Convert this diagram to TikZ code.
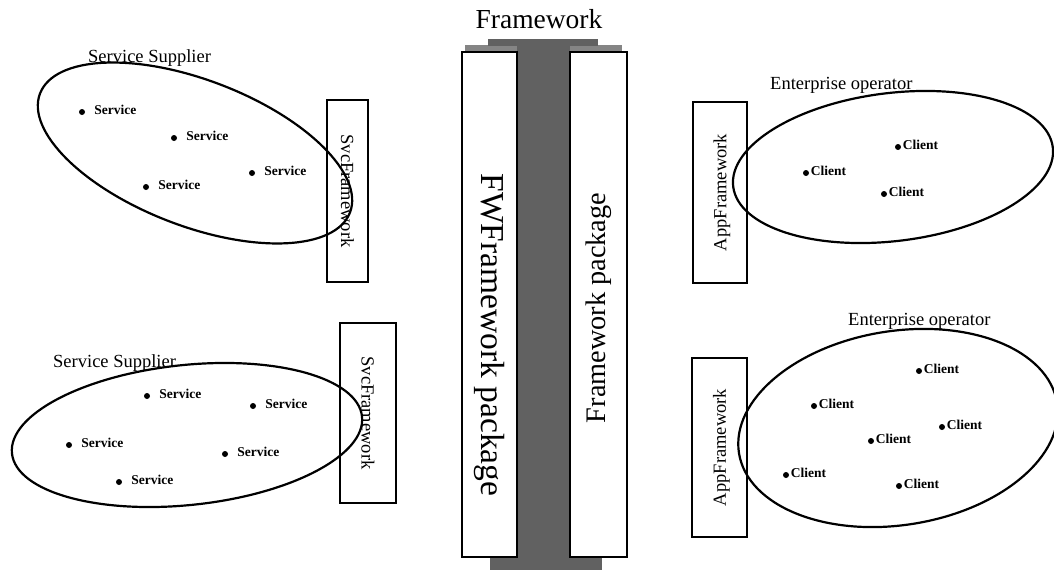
\documentclass[tikz,border=0pt]{standalone}
\usepackage{fontspec}
\setmainfont{Liberation Serif}
\begin{document}
\begin{tikzpicture}[x=1pt,y=-1pt,
  groupline/.style={line width=2.2pt},
  fwbox/.style={draw, line width=1.2pt, inner sep=0pt},
  corebox/.style={draw, line width=1.7pt, fill=white, inner sep=0pt},
  member/.style={circle, fill=black, inner sep=0pt, minimum size=6pt},
  svclabel/.style={anchor=base west, inner sep=0pt, font=\fontsize{13.5}{15}\selectfont\bfseries},
  grouplabel/.style={anchor=base west, inner sep=0pt, font=\fontsize{18.5}{21}\selectfont},
  sidelabel/.style={inner sep=0pt, font=\fontsize{18.5}{21}\selectfont},
]
\useasboundingbox (0,0) rectangle (1054,570);
\fill[white] (0,0) rectangle (1054,570);

% central shared core: flanged column behind the two package boxes
\fill[black!48] (465,45) rectangle (622,53);
\fill[black!62] (488,39) rectangle (598,46);
\fill[black!62] (517,39) rectangle (570,570);
\fill[black!62] (490,556) rectangle (602,570);

\node[corebox, minimum width=55pt, minimum height=505pt] (fwpkg) at (489.5,304.5) {};
\node[corebox, minimum width=57pt, minimum height=505pt] (pkg) at (598.5,304.5) {};
\node[inner sep=0pt, rotate=-90, font=\fontsize{33.5}{36}\selectfont] (fwtext) at (489,335) {FWFramework package};
\node[inner sep=0pt, rotate=90, font=\fontsize{28.3}{31}\selectfont] (pkgtext) at (599,308) {Framework package};
\node[anchor=base, inner sep=0pt, font=\fontsize{27.5}{30}\selectfont] (title) at (539,28) {Framework};

% service supplier, upper left
\node[fwbox, minimum width=41pt, minimum height=182pt] (svc1) at (347.5,191) {};
\node[sidelabel, rotate=-90] at (svc1.center) {SvcFramework};
\draw[groupline, rotate around={-21:(195,153)}] (195,153) ellipse [x radius=166pt, y radius=73pt];
\node[grouplabel] (sup1) at (88,62) {Service Supplier};
\foreach \n/\x/\y in {a/82/112, b/174/138, c/252/173, d/146/187} {
  \node[member] (s1\n) at (\x,\y) {};
  \node[svclabel] at ([xshift=9pt, yshift=-2.5pt]s1\n.east) {Service};
}

% service supplier, lower left
\node[fwbox, minimum width=56pt, minimum height=180pt] (svc2) at (368,413) {};
\node[sidelabel, rotate=-90] at (svc2.center) {SvcFramework};
\draw[groupline, rotate around={6:(187,435)}] (187,435) ellipse [x radius=176pt, y radius=70pt];
\node[grouplabel] (sup2) at (53,367) {Service Supplier};
\foreach \n/\x/\y in {a/147/396, b/253/406, c/69/445, d/225/454, e/119/482} {
  \node[member] (s2\n) at (\x,\y) {};
  \node[svclabel] at ([xshift=9pt, yshift=-2.5pt]s2\n.east) {Service};
}

% enterprise operator, upper right
\node[fwbox, minimum width=54pt, minimum height=181pt] (app1) at (720,192.5) {};
\node[sidelabel, rotate=90] at ([xshift=2pt]app1.center) {AppFramework};
\draw[groupline, rotate around={7:(893,167)}] (893,167) ellipse [x radius=161pt, y radius=74pt];
\node[grouplabel] (ent1) at (770,89) {Enterprise operator};
\foreach \n/\x/\y in {a/898/147, b/806/173, c/884/194} {
  \node[member] (c1\n) at (\x,\y) {};
  \node[svclabel] at ([xshift=1.5pt, yshift=-2.5pt]c1\n.east) {Client};
}

% enterprise operator, lower right
\node[fwbox, minimum width=55pt, minimum height=179pt] (app2) at (719.5,447.5) {};
\node[sidelabel, rotate=90] at ([xshift=2pt]app2.center) {AppFramework};
\draw[groupline, rotate around={9:(898,428)}] (898,428) ellipse [x radius=161pt, y radius=97pt];
\node[grouplabel] (ent2) at (848,325) {Enterprise operator};
\foreach \n/\x/\y in {a/919/371, b/814/406, c/942/427, d/871/441, e/786/475, f/899/486} {
  \node[member] (c2\n) at (\x,\y) {};
  \node[svclabel] at ([xshift=1.5pt, yshift=-2.5pt]c2\n.east) {Client};
}
\end{tikzpicture}
\end{document}
